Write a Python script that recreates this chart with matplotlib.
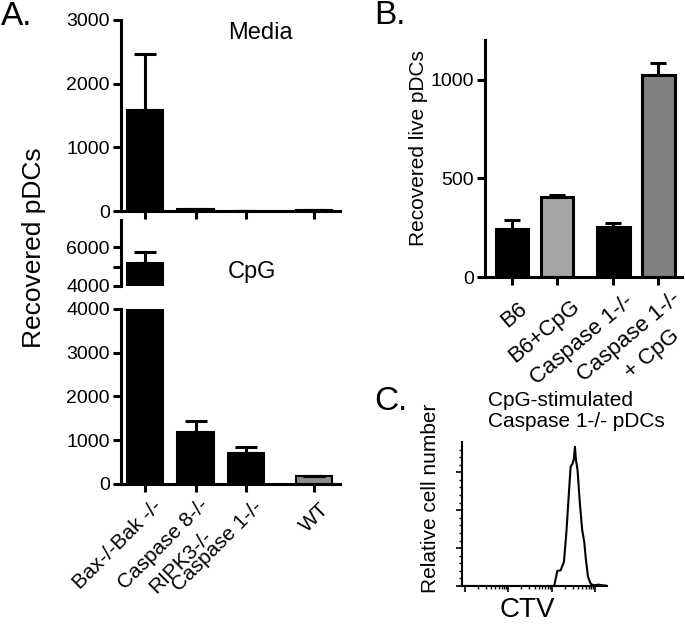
import numpy as np
import matplotlib
matplotlib.use('Agg')
import matplotlib.pyplot as plt
import matplotlib.transforms as mtransforms

plt.rcParams['font.family'] = ['Liberation Sans', 'DejaVu Sans']

# panel A: recovered pDCs, media vs CpG
a_labels = ['Bax-/-Bak -/-', 'Caspase 8-/-\nRIPK3-/-', 'Caspase 1-/-', 'WT']
a_pos = [0, 1, 2, 3.35]
media_vals = [1580, 25, 5, 10]
media_err = [890, 0, 0, 0]
cpg_vals = [5180, 1190, 710, 190]
cpg_err = [560, 250, 140, 0]
a_colors = ['black', 'black', 'black', '#8c8c8c']

# panel B: recovered live pDCs (last label has a second line "+ CpG")
b_labels = ['B6', 'B6+CpG', 'Caspase 1-/-', 'Caspase 1-/-']
b_label_extra = '+ CpG'
b_pos = [0, 1, 2.25, 3.25]
b_vals = [245, 405, 255, 1025]
b_err = [45, 10, 20, 60]
b_colors = ['black', '#a6a6a6', 'black', '#808080']

# panel C: CTV histogram (relative units)
ctv_x = [0, 63.6, 65.7, 68.0, 70.3, 72.1, 73.7, 74.9, 76.3, 77.2, 77.9, 78.6,
         79.7, 81.3, 82.9, 84.3, 85.5, 86.9, 88.7, 91.0, 94.0, 97.5, 99.8]
ctv_count = [0, 0, 9.9, 10.4, 15.9, 36.8, 61.0, 78.6, 80.8, 84.1, 91.8, 83.1,
             76.4, 54.4, 36.8, 29.1, 16.9, 6.0, 1.5, 0.4, 0.9, 0.4, 0.2]

W, H = 685, 625
fig = plt.figure(figsize=(W / 100, H / 100), dpi=100)


def box(x0, y0, x1, y1):
    # pixel box (top-left origin) -> figure fraction rect
    return [x0 / W, 1 - y1 / H, (x1 - x0) / W, (y1 - y0) / H]


def style(ax, lw=2.2, size=14):
    for s in ['top', 'right']:
        ax.spines[s].set_visible(False)
    for s in ['left', 'bottom']:
        ax.spines[s].set_linewidth(lw)
    ax.tick_params(width=lw, length=6, labelsize=size, pad=2)


def offset(dx, dy):
    return mtransforms.ScaledTranslation(dx / 100, -dy / 100, fig.dpi_scale_trans)


def shift(labels, offsets):
    # nudge rotated tick labels by (dx, dy) pixels
    for lab, (dx, dy) in zip(labels, offsets):
        lab.set_transform(lab.get_transform() + offset(dx, dy))


ekw = dict(elinewidth=2.2, capthick=2.2, capsize=8, ecolor='black')
up_media = [[0] * 4, media_err]
up_cpg = [[0] * 4, cpg_err]

# Media
ax1 = fig.add_axes(box(121, 20, 340, 211))
ax1.bar(a_pos, media_vals, width=0.72, color=a_colors, edgecolor='black',
        linewidth=1.5, yerr=up_media, error_kw=ekw)
ax1.set_ylim(0, 3000)
ax1.set_xlim(-0.475, 3.86)
ax1.set_yticks([0, 1000, 2000, 3000])
ax1.set_xticks(a_pos)
ax1.set_xticklabels([])
style(ax1)

# CpG upper (broken part)
ax2 = fig.add_axes(box(121, 220, 340, 286))
ax2.bar(a_pos, cpg_vals, width=0.72, color=a_colors, edgecolor='black',
        linewidth=1.5, yerr=up_cpg, error_kw=ekw)
ax2.set_ylim(4000, 7400)
ax2.set_xlim(-0.475, 3.86)
ax2.set_yticks([4000, 5000, 6000])
ax2.set_yticklabels(['4000', '', '6000'])
ax2.set_xticks([])
style(ax2)
ax2.spines['bottom'].set_visible(False)

# CpG lower
ax3 = fig.add_axes(box(121, 309, 340, 484))
ax3.bar(a_pos, cpg_vals, width=0.72, color=a_colors, edgecolor='black',
        linewidth=1.5, yerr=up_cpg, error_kw=ekw)
ax3.set_ylim(0, 4000)
ax3.set_xlim(-0.475, 3.86)
ax3.set_yticks([0, 1000, 2000, 3000, 4000])
ax3.set_xticks(a_pos)
labs = ax3.set_xticklabels(a_labels, rotation=45, ha='right', va='top',
                           rotation_mode='anchor', multialignment='center',
                           linespacing=1.4)
style(ax3)
ax3.tick_params(axis='x', labelsize=15)
shift(labs, [(7, 2), (3, 0), (7, 2), (5, 4)])

fig.text(260 / W, 1 - 33 / H, 'Media', fontsize=17, ha='center', va='center')
fig.text(252 / W, 1 - 272 / H, 'CpG', fontsize=17, ha='center', va='center')
fig.text(34 / W, 1 - 248 / H, 'Recovered pDCs', fontsize=19, rotation=90,
         ha='center', va='center')
fig.text(1 / W, 1 - 1 / H, 'A.', fontsize=24, ha='left', va='top')

# panel B
axB = fig.add_axes(box(485, 40, 682, 277))
axB.bar(b_pos, b_vals, width=0.73, color=b_colors, edgecolor='black',
        linewidth=2.2, yerr=[[0] * 4, b_err],
        error_kw=dict(elinewidth=2.2, capthick=2.2, capsize=6, ecolor='black'))
axB.set_ylim(0, 1200)
axB.set_xlim(-0.6, 3.78)
axB.set_yticks([0, 500, 1000])
axB.set_xticks(b_pos)
labs = axB.set_xticklabels(b_labels, rotation=40, ha='right', va='top',
                           rotation_mode='anchor')
style(axB)
axB.tick_params(axis='x', labelsize=16)
shift(labs, [(6, 10), (13, 8), (11, 3), (13, 0)])
axB.text(b_pos[3], 0, b_label_extra, fontsize=16, rotation=40, ha='right',
         va='top', rotation_mode='anchor',
         transform=axB.get_xaxis_transform() + offset(12, 48))
fig.text(418 / W, 1 - 148 / H, 'Recovered live pDCs', fontsize=15,
         rotation=90, ha='center', va='center')
fig.text(374 / W, 1 - 0 / H, 'B.', fontsize=24, ha='left', va='top')

# panel C
axC = fig.add_axes(box(462, 442, 607, 586))
axC.plot(ctv_x, ctv_count, color='black', linewidth=1.5)
axC.set_ylim(0, 95)
axC.set_xlim(0, 100)
for s in ['top', 'right']:
    axC.spines[s].set_visible(False)
for s in ['left', 'bottom']:
    axC.spines[s].set_linewidth(1.5)
axC.set_yticks([0, 25, 50, 75])
axC.set_yticks(np.arange(0, 95, 5), minor=True)
dec = [2, 32, 62, 92]
xmaj = [d for d in dec if d <= 100]
xmin = [d + 30 * np.log10(k) for d in dec for k in range(2, 10)
        if d + 30 * np.log10(k) <= 100]
axC.set_xticks(xmaj)
axC.set_xticks(xmin, minor=True)
axC.set_xticklabels([])
axC.set_yticklabels([])
axC.tick_params(which='major', length=4, width=1.2)
axC.tick_params(which='minor', length=2, width=1.0)
fig.text(488 / W, 1 - 391 / H, 'CpG-stimulated\nCaspase 1-/- pDCs',
         fontsize=15, ha='left', va='top', linespacing=1.15)
fig.text(430 / W, 1 - 498 / H, 'Relative cell number', fontsize=15,
         rotation=90, ha='center', va='center')
fig.text(527 / W, 1 - 610 / H, 'CTV', fontsize=20, ha='center', va='center')
fig.text(374 / W, 1 - 386 / H, 'C.', fontsize=24, ha='left', va='top')

fig.savefig('out.png', dpi=100)
